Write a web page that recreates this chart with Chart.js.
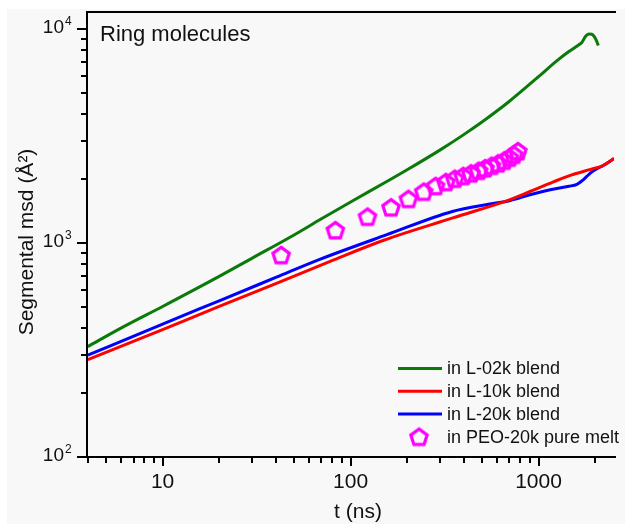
<!DOCTYPE html>
<html>
<head>
<meta charset="utf-8">
<script src="https://cdn.jsdelivr.net/npm/chart.js@4.4.1/dist/chart.umd.min.js"></script>
<style>
  html, body { margin: 0; padding: 0; background: #fff; }
  #wrap { width: 625px; height: 524px; }
</style>
</head>
<body>
<div id="wrap"><canvas id="c" width="625" height="524"></canvas></div>
<script>
// ---- data ----
const greenT = [4, 6, 10, 20, 30, 50, 70, 105, 150, 200, 300, 400, 500, 600, 700, 800, 1000, 1250, 1450, 1640, 1700, 1780, 1850, 1920, 1980, 2040, 2080];
const greenMsd = [328, 400, 505, 698, 850, 1090, 1297, 1592, 1900, 2198, 2723, 3208, 3673, 4134, 4595, 5063, 5986, 7093, 7840, 8440, 8650, 9250, 9480, 9450, 9200, 8750, 8360];

const redT = [4, 10, 20, 40, 82, 150, 350, 700, 900, 1200, 1500, 1870, 2200, 2520];
const redMsd = [285, 394, 505, 646, 836, 1030, 1310, 1590, 1740, 1930, 2080, 2200, 2300, 2480];

const blueT = [4, 10, 20, 40, 68, 156, 348, 550, 700, 900, 1155, 1450, 1600, 1700, 1800, 1900, 2000, 2150, 2300, 2520];
const blueMsd = [299, 418, 537, 690, 836, 1093, 1404, 1520, 1575, 1680, 1773, 1840, 1880, 1950, 2040, 2130, 2200, 2270, 2350, 2480];

const peoT = [42.7, 83, 123, 164, 203, 245, 283, 321, 358, 397, 437, 480, 519, 562, 609, 655, 700, 738, 776];
const peoMsd = [880, 1150, 1330, 1470, 1610, 1740, 1850, 1930, 2000, 2060, 2120, 2180, 2240, 2300, 2360, 2430, 2510, 2590, 2690];

const seriesLabels = ["in L-02k blend", "in L-10k blend", "in L-20k blend", "in PEO-20k pure melt"];
const xTickLabels = [10, 100, 1000];
const yTickExps = [2, 3, 4];

const toXY = (ts, ys) => ts.map((t, i) => ({ x: t, y: ys[i] }));

// pentagon marker (Chart.js has no pentagon point style)
function pentagon(size, r, lw) {
    const c = document.createElement("canvas");
    c.width = size;
    c.height = size;
    const g = c.getContext("2d");
    g.strokeStyle = "#ff00ff";
    g.lineWidth = lw;
    g.lineJoin = "miter";
    g.beginPath();
    for (let i = 0; i < 5; i++) {
        const a = -Math.PI / 2 + i * 2 * Math.PI / 5;
        const px = size / 2 + r * Math.cos(a);
        const py = size / 2 + 1 + r * Math.sin(a);
        if (i === 0) g.moveTo(px, py); else g.lineTo(px, py);
    }
    g.closePath();
    g.stroke();
    return c;
}
const penta = pentagon(24, 8.6, 3.2);

const FONT = '"Liberation Sans", Arial, sans-serif';

// background, axes, ticks, labels and legend
const framePlugin = {
    id: "frame",
    beforeDraw(chart) {
        const ctx = chart.ctx;
        ctx.save();
        ctx.fillStyle = "#ffffff";
        ctx.fillRect(0, 0, chart.width, chart.height);
        ctx.fillStyle = "#f8f8f8";
        ctx.fillRect(7, 9, chart.width - 7, chart.height - 9);
        ctx.restore();
    },
    afterDatasetsDraw(chart) {
        const ctx = chart.ctx;
        const a = chart.chartArea;
        const xs = chart.scales.x;
        const ys = chart.scales.y;
        ctx.save();
        ctx.strokeStyle = "#000";
        ctx.lineWidth = 2;

        // frame: left, bottom, top
        ctx.beginPath();
        ctx.moveTo(a.left, a.top);
        ctx.lineTo(a.right + 2, a.top);
        ctx.moveTo(a.left, a.top - 1);
        ctx.lineTo(a.left, a.bottom + 1);
        ctx.moveTo(a.left - 1, a.bottom);
        ctx.lineTo(a.right + 2, a.bottom);
        ctx.stroke();

        // x ticks
        ctx.beginPath();
        for (let dec = 1; dec <= 1000; dec *= 10) {
            for (let m = 1; m <= 9; m++) {
                const v = m * dec;
                if (v < xs.min || v > xs.max) continue;
                const px = Math.round(xs.getPixelForValue(v));
                const len = m === 1 ? 9 : 6;
                ctx.moveTo(px, a.bottom);
                ctx.lineTo(px, a.bottom + len);
            }
        }
        // y ticks
        for (let dec = 100; dec <= 10000; dec *= 10) {
            for (let m = 1; m <= 9; m++) {
                const v = m * dec;
                if (v < ys.min || v > ys.max) continue;
                const py = Math.round(ys.getPixelForValue(v));
                const len = m === 1 ? 10 : 6;
                ctx.moveTo(a.left, py);
                ctx.lineTo(a.left - len, py);
            }
        }
        ctx.stroke();

        ctx.fillStyle = "#111";
        // x tick labels
        ctx.font = "21px " + FONT;
        ctx.textAlign = "center";
        ctx.textBaseline = "middle";
        xTickLabels.forEach((v) => {
            ctx.fillText(String(v), xs.getPixelForValue(v), 482);
        });

        // y tick labels 10^n
        yTickExps.forEach((e) => {
            const py = ys.getPixelForValue(Math.pow(10, e));
            ctx.font = "19px " + FONT;
            ctx.textAlign = "right";
            ctx.textBaseline = "middle";
            ctx.fillText("10", 64, py - 1);
            ctx.font = "12px " + FONT;
            ctx.textAlign = "left";
            ctx.fillText(String(e), 65, py - 7);
        });

        // axis titles
        ctx.font = "21px " + FONT;
        ctx.textAlign = "center";
        ctx.textBaseline = "middle";
        ctx.fillText("t (ns)", 358, 512);
        ctx.save();
        ctx.translate(27, 242);
        ctx.rotate(-Math.PI / 2);
        ctx.fillText("Segmental msd (\u00C5\u00B2)", 0, 0);
        ctx.restore();

        // panel label
        ctx.font = "22px " + FONT;
        ctx.textAlign = "left";
        ctx.fillText("Ring molecules", 100, 35);

        // legend
        ctx.font = "18px " + FONT;
        chart.data.datasets.forEach((ds, i) => {
            const ry = 368.5 + i * 22.7;
            if (ds.showLine === false) {
                ctx.drawImage(penta, 419 - 12, ry - 12);
            } else {
                ctx.strokeStyle = ds.borderColor;
                ctx.lineWidth = 3;
                ctx.beginPath();
                ctx.moveTo(398, ry);
                ctx.lineTo(442, ry);
                ctx.stroke();
            }
            ctx.fillStyle = "#111";
            ctx.fillText(ds.label, 447, ry + 1);
        });
        ctx.restore();
    },
};

new Chart(document.getElementById("c"), {
    type: "line",
    data: {
        datasets: [
            {
                label: seriesLabels[0],
                data: toXY(greenT, greenMsd),
                borderColor: "#0a7a0a",
                borderWidth: 3,
                pointRadius: 0,
                cubicInterpolationMode: "monotone",
            },
            {
                label: seriesLabels[1],
                data: toXY(redT, redMsd),
                borderColor: "#ff0000",
                borderWidth: 3,
                pointRadius: 0,
                cubicInterpolationMode: "monotone",
            },
            {
                label: seriesLabels[2],
                data: toXY(blueT, blueMsd),
                borderColor: "#0000ff",
                borderWidth: 3,
                pointRadius: 0,
                cubicInterpolationMode: "monotone",
            },
            {
                label: seriesLabels[3],
                data: toXY(peoT, peoMsd),
                showLine: false,
                pointStyle: penta,
                pointRadius: 10,
                borderColor: "#ff00ff",
            },
        ],
    },
    options: {
        responsive: false,
        animation: false,
        layout: { padding: { left: 87, top: 12, right: 0, bottom: 67 } },
        plugins: {
            legend: { display: false },
            tooltip: { enabled: false },
        },
        scales: {
            x: { type: "logarithmic", min: 3.96, max: 2520, display: false },
            y: { type: "logarithmic", min: 100, max: 12000, display: false },
        },
    },
    plugins: [framePlugin],
});
</script>
</body>
</html>
